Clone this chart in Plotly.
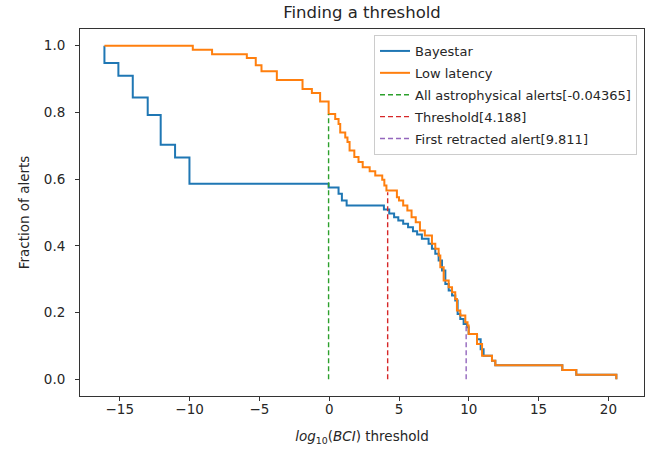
import plotly.graph_objects as go

# Bayestar step curve: threshold where the drop happens, fraction after drop
bayestar_x = [-16.1, -16.1, -15.1, -14.07, -13.0, -12.07, -11.04, -10.01, -0.04, 0.67, 0.91, 1.25,
              3.92, 4.3, 4.65, 4.95, 5.3, 5.65, 6.0, 6.3, 6.64, 7.12, 7.36, 7.6, 7.84, 8.08, 8.32,
              8.56, 8.8, 9.03, 9.2, 9.39, 9.63, 9.87, 9.99, 10.59, 10.85, 11.06, 11.66, 11.9,
              16.7, 17.7, 20.57]
bayestar_y = [1.0, 0.948, 0.91, 0.845, 0.792, 0.703, 0.665, 0.586, 0.575, 0.556, 0.536, 0.521,
              0.509, 0.497, 0.486, 0.476, 0.466, 0.456, 0.444, 0.434, 0.421, 0.406, 0.391, 0.376,
              0.356, 0.326, 0.286, 0.266, 0.251, 0.236, 0.196, 0.181, 0.166, 0.156, 0.136, 0.12,
              0.09, 0.071, 0.056, 0.042, 0.028, 0.014, 0.0]

# Low latency step curve
lowlat_x = [-16.1, -9.77, -8.39, -5.9, -5.26, -4.85, -3.75, -1.91, -1.24, -0.65, -0.04, 0.43,
            0.67, 0.79, 1.15, 1.31, 1.46, 1.80, 2.1, 2.4, 2.9, 3.3, 3.8, 3.95, 4.1, 4.85, 5.0,
            5.3, 5.6, 5.9, 6.2, 6.5, 6.85, 7.36, 7.6, 7.84, 7.96, 8.2, 8.56, 8.8, 9.03, 9.15,
            9.39, 9.75, 9.91, 9.99, 10.59, 10.95, 11.66, 11.9, 16.7, 17.7, 20.57]
lowlat_y = [1.0, 0.988, 0.974, 0.963, 0.941, 0.923, 0.897, 0.870, 0.858, 0.833, 0.795, 0.780,
            0.765, 0.740, 0.725, 0.711, 0.686, 0.666, 0.651, 0.636, 0.624, 0.611, 0.598, 0.581,
            0.566, 0.546, 0.536, 0.521, 0.506, 0.486, 0.471, 0.446, 0.431, 0.406, 0.391, 0.371,
            0.336, 0.296, 0.276, 0.261, 0.241, 0.206, 0.191, 0.171, 0.161, 0.136, 0.106, 0.071,
            0.056, 0.042, 0.028, 0.014, 0.0]

# Marker lines
line_names = ["All astrophysical alerts[-0.04365]", "Threshold[4.188]", "First retracted alert[9.811]"]
line_x = [-0.04365, 4.188, 9.811]
line_top = [0.795, 0.561, 0.162]
line_colors = ["#2ca02c", "#d62728", "#9467bd"]

x_ticks = [-15, -10, -5, 0, 5, 10, 15, 20]
y_ticks = [0.0, 0.2, 0.4, 0.6, 0.8, 1.0]

fig = go.Figure()
fig.add_trace(go.Scatter(x=bayestar_x, y=bayestar_y, mode="lines", name="Bayestar",
                         legendgroup="g1",
                         line=dict(color="#1f77b4", width=2, shape="hv")))
fig.add_trace(go.Scatter(x=lowlat_x, y=lowlat_y, mode="lines", name="Low latency",
                         legendgroup="g2",
                         line=dict(color="#ff7f0e", width=2, shape="hv")))
for i, (n, xv, top, c) in enumerate(zip(line_names, line_x, line_top, line_colors)):
    fig.add_trace(go.Scatter(x=[xv, xv], y=[0, top], mode="lines", name=n,
                             legendgroup="g%d" % (i + 3),
                             line=dict(color=c, width=1.4, dash="5px,3px")))

font_family = "DejaVu Sans"
axis_common = dict(showline=True, linecolor="#333", linewidth=1, mirror=True,
                   ticks="outside", ticklen=4, tickcolor="#333", showgrid=False,
                   zeroline=False, automargin=False,
                   tickfont=dict(size=13.5, color="#262626", family=font_family))

fig.update_layout(
    width=656, height=458,
    margin=dict(l=80, r=12, t=29, b=62),
    paper_bgcolor="white", plot_bgcolor="white",
    font=dict(family=font_family, color="#262626"),
    title=dict(text="Finding a threshold", x=0.5, xref="paper", y=1 - 6 / 458,
               yref="container", xanchor="center", yanchor="top",
               font=dict(size=16.5, color="#262626", family=font_family)),
    xaxis=dict(range=[-17.85, 22.55], tickvals=x_ticks, ticklabelstandoff=-3,
               title=dict(text="<i>log</i><sub>10</sub>(<i>BCI</i>) threshold", standoff=15,
                          font=dict(size=13.5, color="#262626")),
               **axis_common),
    yaxis=dict(range=[-0.05, 1.05], tickvals=y_ticks, tickformat=".1f", ticklabelstandoff=7,
               title=dict(text="Fraction of alerts", standoff=11,
                          font=dict(size=13.5, color="#262626")),
               **axis_common),
    legend=dict(x=0.9876, y=0.9837, xanchor="right", yanchor="top",
                bgcolor="rgba(255,255,255,0.8)", bordercolor="#cccccc", borderwidth=1,
                font=dict(size=13, color="#262626", family=font_family),
                tracegroupgap=2, itemwidth=30),
    showlegend=True,
)

fig.write_html("out.html", config={"displayModeBar": False},
               post_script="document.body.style.margin='0';")
